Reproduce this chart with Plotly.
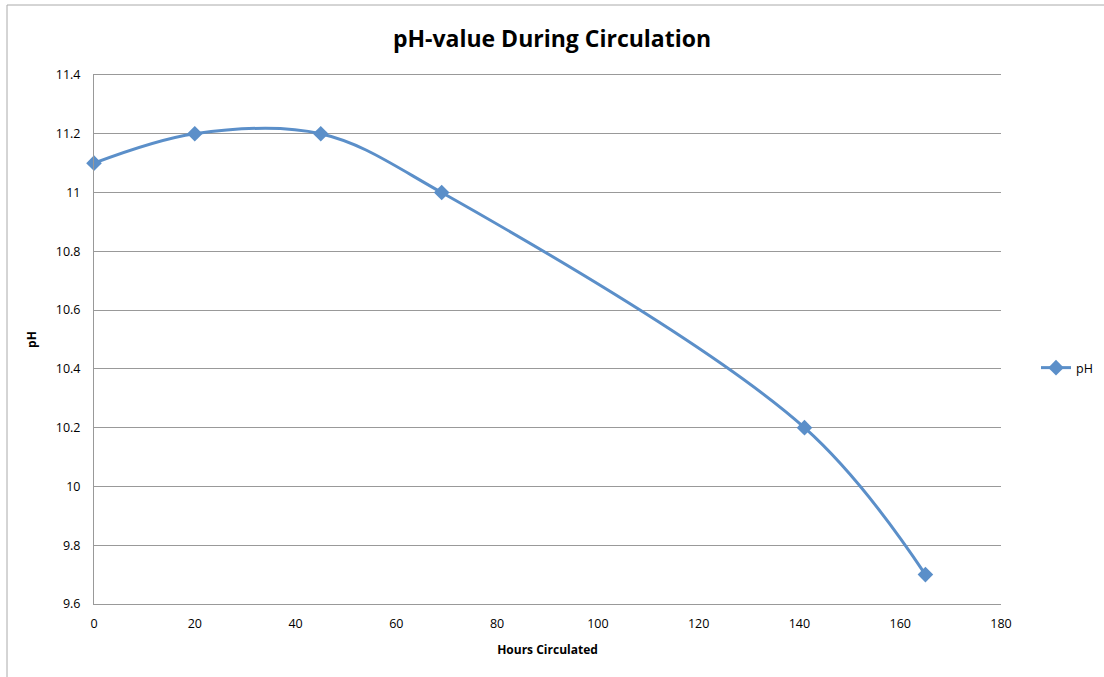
import plotly.graph_objects as go

# Hours of circulation and measured pH
hours = [0, 20, 45, 69, 141, 165]
ph_values = [11.1, 11.2, 11.2, 11.0, 10.2, 9.7]

x_ticks = [0, 20, 40, 60, 80, 100, 120, 140, 160, 180]
y_ticks = [9.6, 9.8, 10.0, 10.2, 10.4, 10.6, 10.8, 11.0, 11.2, 11.4]
y_tick_text = ["9.6", "9.8", "10", "10.2", "10.4", "10.6", "10.8", "11", "11.2", "11.4"]

W, H = 1104, 677
L, R, T, B = 94, 103, 75, 73
pw, ph = W - L - R, H - T - B

blue = "#5B8FC9"
font = "Open Sans, Liberation Sans, sans-serif"

fig = go.Figure()
fig.add_trace(go.Scatter(
    x=hours, y=ph_values, name="pH", mode="lines+markers",
    line=dict(color=blue, width=3, shape="spline", smoothing=1.0),
    marker=dict(symbol="diamond", size=12, color=blue),
    cliponaxis=False,
))

fig.update_layout(
    width=W, height=H,
    margin=dict(l=L, r=R, t=T, b=B, autoexpand=False),
    paper_bgcolor="white", plot_bgcolor="white",
    font=dict(family=font, size=12, color="#000"),
    title=dict(text="<b>pH-value During Circulation</b>", x=0.5, xanchor="center",
               y=1 - 39 / H, yanchor="middle",
               font=dict(family=font, size=23, color="#000")),
    xaxis=dict(range=[0, 180], tickvals=x_ticks, ticks="", showgrid=False,
               zeroline=False, showline=True, mirror=True, linecolor="#999", linewidth=1,
               tickfont=dict(size=12.5), ticklabelstandoff=8,
               title=dict(text="<b>Hours Circulated</b>", font=dict(size=12), standoff=14)),
    yaxis=dict(range=[9.6, 11.4], tickvals=y_ticks, ticktext=y_tick_text, ticks="",
               showgrid=True, gridcolor="#999", gridwidth=1,
               zeroline=False, showline=True, linecolor="#999", linewidth=1,
               tickfont=dict(size=12.5), ticklabelstandoff=10,
               title=dict(text="<b>pH</b>", font=dict(size=12), standoff=16)),
    legend=dict(x=(1036 - L) / pw, y=(H - 368 - B) / ph, xanchor="left", yanchor="middle",
                font=dict(size=12.5), bgcolor="rgba(0,0,0,0)", itemwidth=30),
    showlegend=True,
)

# Outer chart frame (left and top edges)
fig.add_shape(type="line", xref="paper", yref="paper",
              x0=(7 - L) / pw, x1=(7 - L) / pw, y0=-(B + 10) / ph, y1=1 + (T - 5) / ph,
              line=dict(color="#aaa", width=1))
fig.add_shape(type="line", xref="paper", yref="paper",
              x0=(7 - L) / pw, x1=(W + 10 - L) / pw, y0=1 + (T - 5) / ph, y1=1 + (T - 5) / ph,
              line=dict(color="#aaa", width=1))

fig.write_html("out.html")
